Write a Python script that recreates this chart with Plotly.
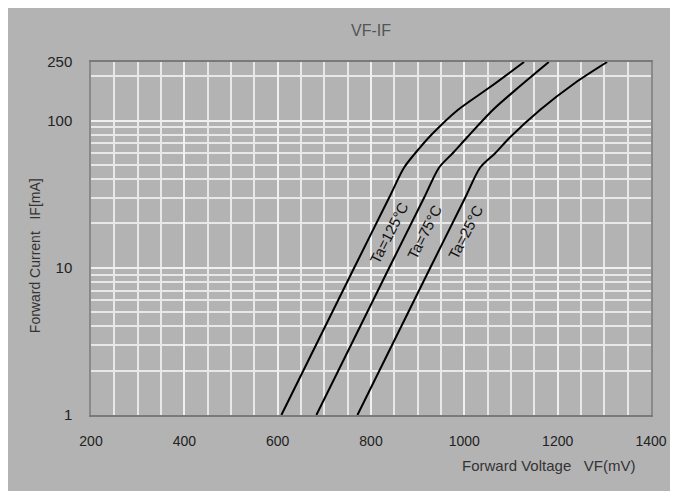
import plotly.graph_objects as go
import numpy as np

# Forward voltage (mV) / forward current (mA)
vf_125 = [608, 764, 839, 871, 904, 931, 986, 1053, 1128]
if_125 = [1, 10, 30, 48, 65, 81, 118, 167, 250]
vf_75 = [683, 839, 914, 946, 975, 1006, 1061, 1117, 1181]
if_75 = [1, 10, 30, 48, 60, 77, 118, 169, 250]
vf_25 = [771, 927, 1002, 1034, 1066, 1098, 1162, 1237, 1306]
if_25 = [1, 10, 30, 48, 60, 77, 118, 180, 250]

curve_labels = ["Ta=125°C", "Ta=75°C", "Ta=25°C"]
label_vf = [802, 877, 965]
label_if = [17.5, 17.5, 17.5]

x_ticks = [200, 400, 600, 800, 1000, 1200, 1400]
y_ticks = [1, 10, 100, 250]
y_minor = [2, 3, 4, 5, 6, 7, 8, 9, 20, 30, 40, 50, 60, 70, 80, 90, 200]
x_minor = list(range(250, 1400, 50))

bg = "#b3b3b3"
fig = go.Figure()
for vf, i_f in [(vf_125, if_125), (vf_75, if_75), (vf_25, if_25)]:
    fig.add_trace(go.Scatter(x=vf, y=i_f, mode="lines",
                             line=dict(color="black", width=2, shape="spline", smoothing=0.8),
                             showlegend=False, hoverinfo="skip"))

for t, xv, yv in zip(curve_labels, label_vf, label_if):
    fig.add_annotation(x=xv, y=np.log10(yv), text=t, showarrow=False, textangle=-63,
                       xshift=17, font=dict(family="Liberation Sans Narrow, Liberation Sans, sans-serif",
                                            size=15, color="#111"))

fig.add_annotation(xref="paper", yref="paper", x=0.5, y=1.0, yshift=32, yanchor="middle",
                   text="VF-IF", showarrow=False,
                   font=dict(family="Liberation Sans, sans-serif", size=16, color="#555"))
fig.add_annotation(xref="paper", yref="paper", x=0.975, y=0, yshift=-50, xanchor="right",
                   yanchor="middle", text="Forward Voltage   VF(mV)", showarrow=False,
                   font=dict(family="Liberation Sans, sans-serif", size=15, color="#333"))
fig.add_annotation(xref="paper", yref="paper", x=0, xshift=-66, y=0.45, textangle=-90,
                   text="Forward Current   IF[mA]", showarrow=False,
                   font=dict(family="Liberation Sans, sans-serif", size=14, color="#333"))

fig.update_layout(
    width=670, height=483,
    margin=dict(l=83, r=27, t=54, b=76),
    paper_bgcolor=bg, plot_bgcolor=bg,
    xaxis=dict(range=[200, 1400], tickvals=x_ticks, ticks="", showgrid=True,
               gridcolor="#f0f0f0", gridwidth=1.5, zeroline=False, ticklabelstandoff=12,
               showline=True, linecolor="#7a7a7a", linewidth=2, mirror=True,
               tickfont=dict(family="Liberation Sans, sans-serif", size=14, color="#222"),
               minor=dict(tickmode="array", tickvals=x_minor, showgrid=True,
                          gridcolor="#e8e8e8", gridwidth=1.5)),
    yaxis=dict(type="log", range=[0, np.log10(250)], tickvals=y_ticks,
               ticktext=[str(v) for v in y_ticks], ticks="", showgrid=True,
               gridcolor="#f0f0f0", gridwidth=1.5, zeroline=False, ticklabelstandoff=14,
               showline=True, linecolor="#8a8a8a", linewidth=1.5, mirror=True,
               tickfont=dict(family="Liberation Sans, sans-serif", size=15, color="#222"),
               minor=dict(tickmode="array", tickvals=y_minor, showgrid=True,
                          gridcolor="#e8e8e8", gridwidth=1.5)),
)

fig.write_html("out.html")
